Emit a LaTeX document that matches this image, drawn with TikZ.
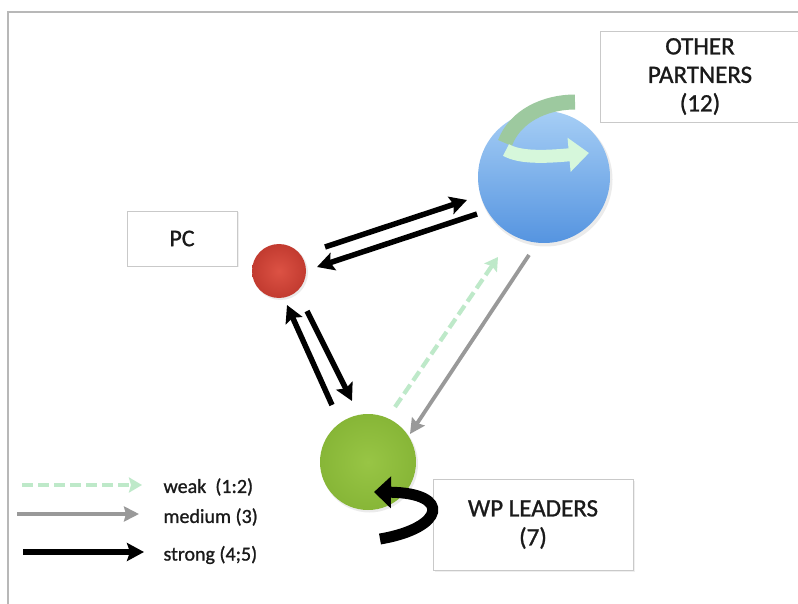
\documentclass[tikz,border=0pt]{standalone}
\usepackage{fontspec}
\setmainfont[FakeBold=1]{Carlito}
\usetikzlibrary{arrows.meta,calc,shadows}
\definecolor{frameGray}{HTML}{B8B8B8}
\definecolor{boxGray}{HTML}{C9C9C9}
\definecolor{textDark}{HTML}{1A1A1A}
\definecolor{weakGreen}{HTML}{BEE9C9}
\definecolor{midGray}{HTML}{999999}
\definecolor{blueTop}{HTML}{A6CEF5}
\definecolor{blueBot}{HTML}{5594E0}
\definecolor{redIn}{HTML}{DC5244}
\definecolor{redOut}{HTML}{C23B30}
\definecolor{greenIn}{HTML}{98C545}
\definecolor{greenOut}{HTML}{87B637}
\definecolor{loopBand}{HTML}{9DC99F}
\definecolor{loopMint}{HTML}{D6F7DB}
\tikzset{
  labelbox/.style={draw=boxGray, line width=0.9pt, fill=white, text=textDark,
    align=center, inner sep=0pt,
    drop shadow={opacity=0.12, shadow xshift=1.5pt, shadow yshift=-1.5pt}},
  actor/.style={circle, inner sep=0pt, draw=none},
  strong/.style={line width=5.5pt, black, -{Stealth[length=17pt,width=18pt,inset=3pt]}},
  medium/.style={line width=3.8pt, midGray, -{Stealth[length=15pt,width=15pt,inset=2pt]}},
  weak/.style={line width=4.2pt, weakGreen, dash pattern=on 11pt off 5pt,
    -{Stealth[length=13pt,width=15pt,inset=2pt]}},
  legendtext/.style={anchor=west, text=textDark, font=\fontsize{20}{22}\selectfont},
}
\begin{document}
\begin{tikzpicture}[x=1pt,y=-1pt]
\useasboundingbox (0,0) rectangle (798,604);
\fill[white] (0,0) rectangle (798,604);

% outer frame (open to the right and bottom)
\draw[frameGray, line width=1.6pt] (8,604) -- (8,12) -- (798,12);

% label boxes
\node[labelbox, minimum width=110pt, minimum height=55pt,
  font=\fontsize{24}{28}\selectfont] (pcbox) at (182,238.5) {PC};
\node[labelbox, minimum width=200pt, minimum height=91pt,
  font=\fontsize{25}{28.5}\selectfont] (opbox) at (700,76.5) {OTHER\\PARTNERS\\(12)};
\node[labelbox, minimum width=200pt, minimum height=91pt,
  font=\fontsize{25}{29}\selectfont] (wpbox) at (533,524.5) {WP LEADERS\\(7)};

% actors
\fill[black, opacity=0.08] (545.5,179.5) circle (67pt);
\node[actor, minimum size=132pt, top color=blueTop, bottom color=blueBot] (op) at (544,177) {};
\fill[black, opacity=0.08] (280.5,272.5) circle (27.5pt);
\node[actor, minimum size=54pt, inner color=redIn, outer color=redOut] (pc) at (279,271) {};
\fill[black, opacity=0.08] (369.5,464) circle (48.5pt);
\node[actor, minimum size=96pt, inner color=greenIn, outer color=greenOut] (wp) at (368,462) {};

% self relation of the other partners
\draw[loopBand, line width=15pt] (505,143) .. controls (515,116) and (545,102) .. (575,102);
\draw[loopMint, line width=13pt, -{Triangle[length=20pt,width=33pt]}]
  (506,150) .. controls (520,158) and (545,157) .. (589,153);

% self relation of the WP leaders
\draw[black, line width=11pt, -{Triangle[length=17pt,width=31pt]}]
  (380,539) .. controls (445,528) and (452,493) .. (374,492);

% PC <-> other partners
\coordinate (pcA) at (325,247);
\coordinate (opA) at (467,200);
\coordinate (opB) at (477,214);
\coordinate (pcB) at (317,267);
\draw[strong] (pcA) -- (opA);
\draw[strong] (opB) -- (pcB);

% PC <-> WP leaders
\coordinate (wpC) at (332,405);
\coordinate (pcC) at (287,305);
\coordinate (pcD) at (307,311);
\coordinate (wpD) at (352,401);
\draw[strong] (wpC) -- (pcC);
\draw[strong] (pcD) -- (wpD);

% WP leaders <-> other partners
\coordinate (wpE) at (395,407);
\coordinate (opE) at (498,257);
\coordinate (opF) at (529,255);
\coordinate (wpF) at (410,434);
\draw[weak] (wpE) -- (opE);
\draw[medium] (opF) -- (wpF);

% legend
\coordinate (lw0) at (22,485);  \coordinate (lw1) at (142,485);
\coordinate (lm0) at (17,514);  \coordinate (lm1) at (139,514);
\coordinate (ls0) at (23,552);  \coordinate (ls1) at (144,552);
\draw[weak] (lw0) -- (lw1);
\draw[medium, line width=4.5pt] (lm0) -- (lm1);
\draw[strong, line width=6pt] (ls0) -- (ls1);
\node[legendtext] (lwt) at (160,487) {weak\ \ (1:2)};
\node[legendtext] (lmt) at (160,517) {medium (3)};
\node[legendtext] (lst) at (160,555) {strong (4;5)};
\end{tikzpicture}
\end{document}
